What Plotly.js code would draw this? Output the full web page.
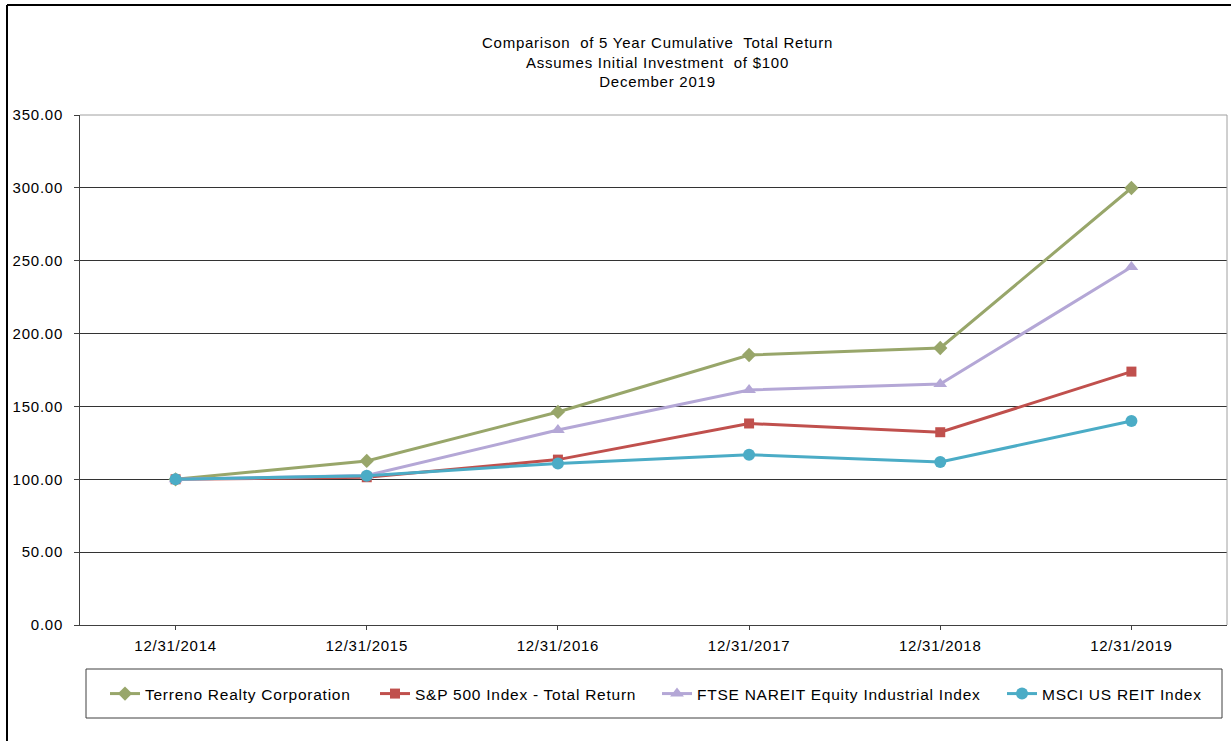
<!DOCTYPE html>
<html>
<head>
<meta charset="utf-8">
<script src="https://cdn.plot.ly/plotly-3.0.1.min.js"></script>
<style>
  html, body { margin: 0; padding: 0; background: #fff; }
  #chart { width: 1231px; height: 741px; }
  text { letter-spacing: 0.75px; }
</style>
</head>
<body>
<div id="chart"></div>
<script>
const categories = ["12/31/2014", "12/31/2015", "12/31/2016", "12/31/2017", "12/31/2018", "12/31/2019"];
const terreno = [100.00, 112.6, 146.2, 185.3, 190.1, 299.9];
const sp500 = [100.00, 101.4, 113.5, 138.3, 132.3, 173.9];
const ftse = [100.00, 102.6, 133.8, 161.3, 165.4, 245.7];
const msci = [100.00, 102.5, 110.9, 116.9, 111.8, 140.0];
const seriesNames = ["Terreno Realty Corporation", "S&P 500 Index - Total Return", "FTSE NAREIT Equity Industrial Index", "MSCI US REIT Index"];
const yTicks = [0, 50, 100, 150, 200, 250, 300, 350];

const font = "Liberation Sans, Arial, sans-serif";
// plot area in pixels: x 80..1227, y 115..625
const PL = 80, PW = 1147, PB = 625, PH = 510;
const px = v => (v - PL) / PW;
const py = v => (PB - v) / PH;

function tr(y, name, color, symbol, size, leg) {
  return {
    x: categories, y: y, name: name, type: "scatter", mode: "lines+markers",
    line: {color: color, width: 3},
    marker: {symbol: symbol, size: size, color: color},
    legend: leg,
    hoverinfo: "x+y"
  };
}

const data = [
  tr(terreno, seriesNames[0], "#98A66A", "diamond", 11, "legend"),
  tr(sp500, seriesNames[1], "#C0504D", "square", 10, "legend2"),
  tr(ftse, seriesNames[2], "#B4A7D6", "triangle-up", 12, "legend3"),
  tr(msci, seriesNames[3], "#4BACC6", "circle", 12, "legend4")
];

function leg(left) {
  return {
    orientation: "h", x: px(left), xanchor: "left", y: py(694), yanchor: "middle",
    borderwidth: 0, bgcolor: "rgba(0,0,0,0)",
    font: {family: font, size: 15.5, color: "#000"},
    itemwidth: 30
  };
}

const layout = {
  width: 1231, height: 741,
  margin: {l: 80, r: 4, t: 115, b: 116},
  paper_bgcolor: "#fff", plot_bgcolor: "#fff",
  font: {family: font, size: 15, color: "#000"},
  title: {
    text: "Comparison  of 5 Year Cumulative  Total Return<br>Assumes Initial Investment  of $100<br>December 2019",
    font: {family: font, size: 15, color: "#000"},
    x: px(657.5), xref: "paper", xanchor: "center",
    y: 1 - 48 / 741, yref: "container", yanchor: "top"
  },
  xaxis: {
    type: "category", range: [-0.5, 5.5],
    showline: true, linecolor: "#404040", linewidth: 1,
    ticks: "outside", ticklen: 4, tickcolor: "#404040",
    showgrid: false, zeroline: false,
    tickfont: {family: font, size: 15, color: "#000"},
    ticklabelstandoff: 3, fixedrange: true
  },
  yaxis: {
    range: [0, 350], tickvals: yTicks,
    ticktext: yTicks.map(v => v.toFixed(2)),
    showline: true, linecolor: "#404040", linewidth: 1,
    ticks: "outside", ticklen: 5, tickcolor: "#404040",
    showgrid: true, gridcolor: "#333333", gridwidth: 1,
    zeroline: false,
    tickfont: {family: font, size: 15, color: "#000"},
    ticklabelstandoff: 8,
    fixedrange: true
  },
  shapes: [
    {type: "line", xref: "paper", yref: "paper", x0: 0, x1: 1, y0: 1, y1: 1, line: {color: "#a0a0a0", width: 1}},
    {type: "line", xref: "paper", yref: "paper", x0: 1, x1: 1, y0: 0, y1: 1, line: {color: "#a0a0a0", width: 1}},
    {type: "line", xref: "paper", yref: "paper", x0: px(7), x1: px(7), y0: py(760), y1: py(5), line: {color: "#000", width: 2}},
    {type: "line", xref: "paper", yref: "paper", x0: px(7), x1: px(1250), y0: py(5), y1: py(5), line: {color: "#000", width: 2}},
    {type: "rect", xref: "paper", yref: "paper", x0: px(86), x1: px(1222), y0: py(718), y1: py(669), line: {color: "#404040", width: 1}, fillcolor: "rgba(0,0,0,0)"}
  ],
  showlegend: true,
  legend: leg(105),
  legend2: leg(375),
  legend3: leg(657),
  legend4: leg(1002),
  hovermode: "closest"
};

Plotly.newPlot("chart", data, layout, {displayModeBar: false});
</script>
</body>
</html>
